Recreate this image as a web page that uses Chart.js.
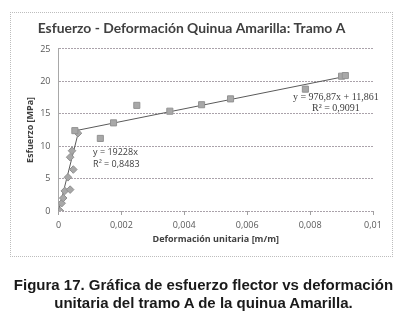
<!DOCTYPE html>
<html>
<head>
<meta charset="utf-8">
<script src="https://cdn.jsdelivr.net/npm/chart.js@4/dist/chart.umd.min.js"></script>
<style>
  html, body { margin: 0; padding: 0; background: #fff; }
  #wrap { position: relative; width: 407px; height: 325px; }
  #frame { position: absolute; left: 10px; top: 12px; width: 383px; height: 245px; border: 1px dotted #bdbdbd; box-sizing: border-box; }
  canvas { position: absolute; left: 0; top: 0; }
  #caption { position: absolute; left: 0; top: 276px; width: 407px; text-align: center;
    font-family: "Liberation Sans", Arial, sans-serif; font-weight: bold; font-size: 15px; line-height: 18px; color: #1a1a1a; }
</style>
</head>
<body>
<div id="wrap">
  <div id="frame"></div>
  <canvas id="c" width="407" height="325"></canvas>
  <div id="caption">Figura 17. Gráfica de esfuerzo flector vs deformación<br>unitaria del tramo A de la quinua Amarilla.</div>
</div>
<script>
// Series 1 (elastic region, diamonds): strain [m/m], stress [MPa]
const strain1 = [0.00005, 0.00010, 0.00015, 0.00020, 0.00037, 0.00030, 0.00047, 0.00037, 0.00043, 0.00062];
const stress1 = [0.0, 1.2, 2.0, 3.1, 3.3, 5.2, 6.4, 8.3, 9.3, 12.0];
// Series 2 (plastic region, squares)
const strain2 = [0.00052, 0.00133, 0.00175, 0.00249, 0.00354, 0.00455, 0.00547, 0.00785, 0.00900, 0.00912];
const stress2 = [12.4, 11.2, 13.6, 16.3, 15.4, 16.4, 17.3, 18.8, 20.8, 20.9];
// Trendline endpoints
const trend1X = [0, 0.00062];
const trend1Y = [0, 11.9];
const trend2X = [0.00052, 0.00912];
const trend2Y = [12.37, 20.77];
// Axis ticks
const xTicks = [0, 0.002, 0.004, 0.006, 0.008, 0.01];
const xTickLabels = ["0", "0,002", "0,004", "0,006", "0,008", "0,01"];
const yTicks = [0, 5, 10, 15, 20, 25];
// Equation labels
const eq1 = ["y = 19228x", "R² = 0,8483"];
const eq2 = ["y = 976,87x + 11,861", "R² = 0,9091"];

const toPts = (xs, ys) => xs.map((x, i) => ({x: x, y: ys[i]}));

const labelPlugin = {
  id: 'eqLabels',
  afterDatasetsDraw(chart) {
    const ctx = chart.ctx;
    const xs = chart.scales.x, ys = chart.scales.y;
    ctx.save();
    ctx.fillStyle = '#404040';
    ctx.textBaseline = 'middle';
    ctx.font = '9px "Open Sans", "DejaVu Sans", sans-serif';
    ctx.textAlign = 'left';
    const lx = xs.getPixelForValue(0.0011);
    ctx.fillText(eq1[0], lx, ys.getPixelForValue(9.0));
    ctx.fillText(eq1[1], lx, ys.getPixelForValue(7.25));
    ctx.font = '10px "Liberation Serif", "Times New Roman", serif';
    ctx.textAlign = 'center';
    const rx = xs.getPixelForValue(0.00882);
    ctx.fillText(eq2[0], rx, ys.getPixelForValue(17.55));
    ctx.fillText(eq2[1], rx, ys.getPixelForValue(15.85));
    ctx.restore();
  }
};

new Chart(document.getElementById('c'), {
  type: 'scatter',
  data: {
    datasets: [
      { label: 'Tendencia 1', type: 'line', data: toPts(trend1X, trend1Y), borderColor: '#5a5a5a', borderWidth: 1, pointRadius: 0, fill: false, order: 3 },
      { label: 'Tendencia 2', type: 'line', data: toPts(trend2X, trend2Y), borderColor: '#5a5a5a', borderWidth: 1, pointRadius: 0, fill: false, order: 3 },
      { label: 'Tramo elástico', data: toPts(strain1, stress1), pointStyle: 'rectRot', pointRadius: 3.8, backgroundColor: '#a8a8a8', borderColor: '#8f8f8f', borderWidth: 1, order: 2 },
      { label: 'Tramo plástico', data: toPts(strain2, stress2), pointStyle: 'rect', pointRadius: 4.3, backgroundColor: '#a8a8a8', borderColor: '#939393', borderWidth: 1, order: 1 }
    ]
  },
  options: {
    responsive: false,
    animation: false,
    events: [],
    layout: { padding: { left: 10, right: 34, top: 0, bottom: 74 } },
    plugins: {
      legend: { display: false },
      tooltip: { enabled: false },
      title: {
        display: true,
        text: 'Esfuerzo - Deformación Quinua Amarilla: Tramo A',
        color: '#404040',
        font: { family: 'Lato, "Open Sans", sans-serif', size: 13.9, weight: 'bold' },
        padding: { top: 20.5, bottom: 11.8 }
      }
    },
    scales: {
      x: {
        type: 'linear',
        min: 0, max: 0.01,
        afterBuildTicks(scale) { scale.ticks = xTicks.map(v => ({value: v})); },
        afterFit(scale) { scale.height = 40; },
        ticks: {
          color: '#595959',
          font: { family: '"Open Sans", sans-serif', size: 9 },
          padding: 5,
          maxRotation: 0,
          callback: (v) => { const i = xTicks.findIndex(t => Math.abs(t - v) < 1e-9); return i >= 0 ? xTickLabels[i] : ''; }
        },
        grid: { display: true, drawOnChartArea: false, drawTicks: true, tickLength: 4, color: '#a0a0a0' },
        border: { display: false },
        title: {
          display: true, text: 'Deformación unitaria [m/m]', color: '#404040',
          font: { family: '"Open Sans", sans-serif', size: 9, weight: 'bold' },
          padding: { top: 0, bottom: 6.6 }
        }
      },
      y: {
        type: 'linear',
        min: 0, max: 25,
        afterBuildTicks(scale) { scale.ticks = yTicks.map(v => ({value: v})); },
        afterFit(scale) { scale.width = 48.5; },
        ticks: {
          color: '#595959',
          font: { family: '"Open Sans", sans-serif', size: 9 },
          padding: 8
        },
        grid: { color: '#aaa2aa', drawTicks: false, lineWidth: 1 },
        border: { display: true, color: '#a8a8a8', dash: [2, 1] },
        title: {
          display: true, text: 'Esfuerzo [MPa]', color: '#404040',
          font: { family: '"Open Sans", sans-serif', size: 9, weight: 'bold' },
          padding: { top: 14.6, bottom: 0 }
        }
      }
    }
  },
  plugins: [labelPlugin]
});
</script>
</body>
</html>
